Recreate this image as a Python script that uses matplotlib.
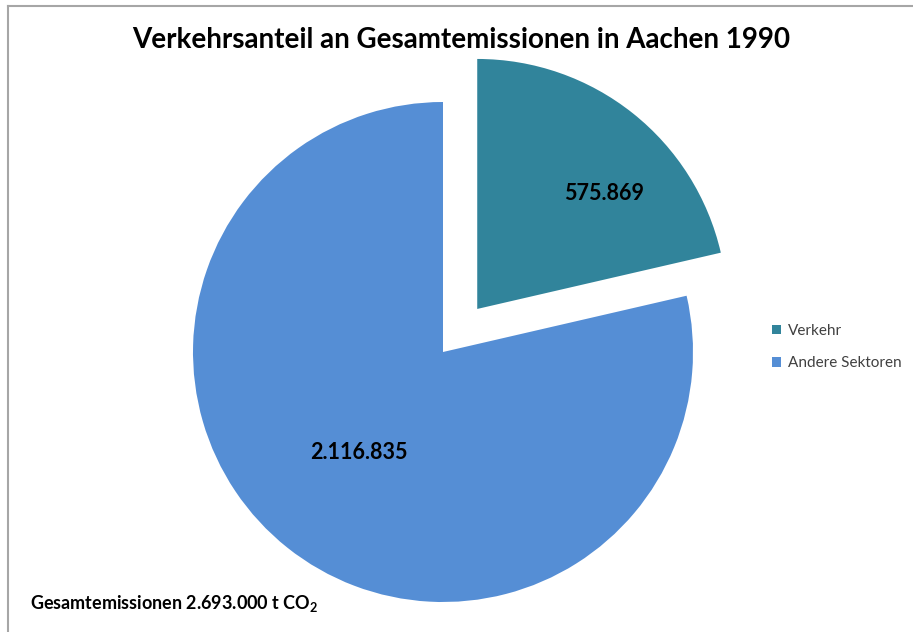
import matplotlib
matplotlib.use('Agg')
import matplotlib.pyplot as plt
from matplotlib.lines import Line2D

# Daten
sektoren = ['Verkehr', 'Andere Sektoren']
emissionen = [575869, 2116835]
farben = ['#31849B', '#558ED5']
gesamt = 2693000

plt.rcParams['font.family'] = ['Lato', 'DejaVu Sans']
plt.rcParams['mathtext.fontset'] = 'custom'
plt.rcParams['mathtext.rm'] = 'Lato:bold'

W, H = 913, 632
fig = plt.figure(figsize=(W / 100, H / 100), dpi=100)

# Rahmen (nur oben und links sichtbar)
fig.add_artist(Line2D([8 / W, 8 / W], [0, 1 - 6 / H], color='#a6a6a6', lw=1.5))
fig.add_artist(Line2D([8 / W, 1], [1 - 6 / H, 1 - 6 / H], color='#a6a6a6', lw=1.5))

# Kreis: Mittelpunkt (443, 352) px, Radius 250 px
r_px = 250
lim = 1.3
size = 2 * lim * r_px
cx, cy = 443, H - 352
ax = fig.add_axes([(cx - size / 2) / W, (cy - size / 2) / H, size / W, size / H])

def zahl(v):
    return f'{v:,}'.replace(',', '.')

wedges, texts, autotexts = ax.pie(
    emissionen, colors=farben, explode=[0.22, 0], startangle=90,
    counterclock=False, radius=1,
    autopct=lambda p: zahl(round(p * sum(emissionen) / 100)),
    pctdistance=0.62,
    textprops=dict(fontsize=15.5, fontweight='bold', color='black'))
ax.set_xlim(-lim, lim)
ax.set_ylim(-lim, lim)
ax.set_aspect('equal')
ax.axis('off')

# Beschriftungen leicht verschieben
x, y = autotexts[0].get_position()
autotexts[0].set_position((x + 0.12, y - 0.025))
x, y = autotexts[1].get_position()
autotexts[1].set_position((x + 0.05, y + 0.085))

fig.text(461 / W, 1 - 40 / H, 'Verkehrsanteil an Gesamtemissionen in Aachen 1990',
         ha='center', va='center', fontsize=20, fontweight='bold')

fig.legend(wedges, sektoren, loc='center left', bbox_to_anchor=(758 / W, 1 - 347 / H),
           frameon=False, fontsize=11, handlelength=0.6, handleheight=0.6,
           handletextpad=0.45, labelspacing=1.2, labelcolor='#404040')

fig.text(30 / W, 1 - 604 / H, 'Gesamtemissionen ' + zahl(gesamt) + r' t CO$_2$',
         ha='left', va='center', fontsize=13, fontweight='bold')

fig.savefig('out.png', dpi=100)
